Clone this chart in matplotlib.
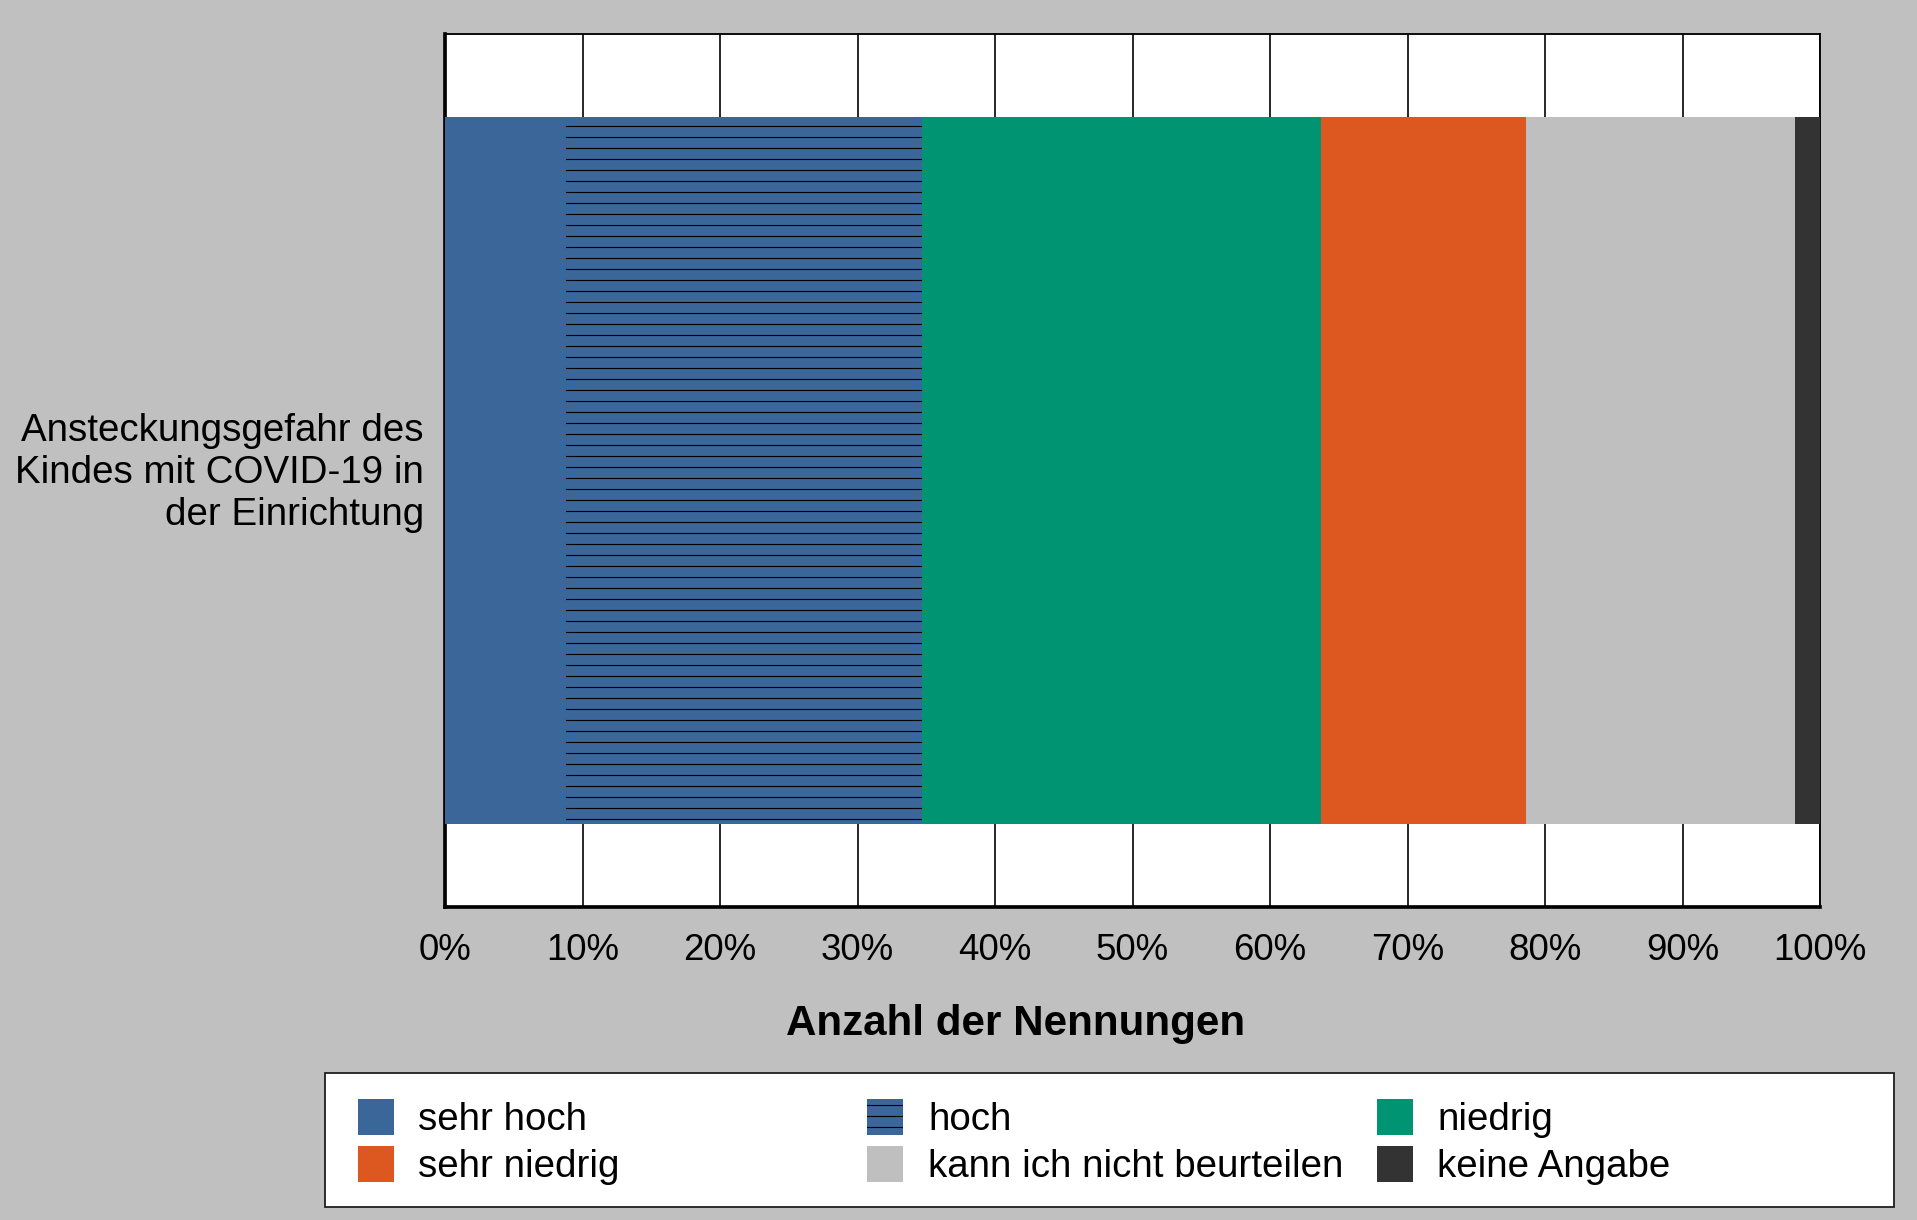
import matplotlib
matplotlib.use("Agg")
import matplotlib.pyplot as plt
from matplotlib.patches import Rectangle

# Data (shares in percent)
question = "Ansteckungsgefahr des\nKindes mit COVID-19 in\nder Einrichtung"
categories = ["sehr hoch", "hoch", "niedrig", "sehr niedrig",
              "kann ich nicht beurteilen", "keine Angabe"]
shares = [8.8, 25.9, 29.0, 14.9, 19.6, 1.8]
colors = ["#3a6699", "#3a6699", "#009473", "#dd5820", "#bfbfbf", "#333333"]
hatches = [None, "--", None, None, None, None]
xticks = [0, 10, 20, 30, 40, 50, 60, 70, 80, 90, 100]
xtick_labels = [f"{t}%" for t in xticks]

W, H, DPI = 1917, 1220, 132

plt.rcParams["font.family"] = ["Liberation Sans", "DejaVu Sans"]
plt.rcParams["hatch.color"] = "black"
plt.rcParams["hatch.linewidth"] = 0.6


def fx(px):
    return px / W


def fy(py):
    return 1 - py / H


fig = plt.figure(figsize=(W / DPI, H / DPI), dpi=DPI, facecolor="#c0c0c0")
ax = fig.add_axes([fx(445), fy(907), fx(1820) - fx(445), fy(34) - fy(907)])
ax.set_facecolor("white")

# Stacked horizontal bar
left = 0
for cat, val, col, h in zip(categories, shares, colors, hatches):
    ax.barh(0, val, left=left, height=0.81, color=col, edgecolor="black",
            linewidth=0, hatch=h, label=cat, zorder=3)
    left += val

ax.set_xlim(0, 100)
ax.set_ylim(-0.5, 0.5)
ax.set_xticks(xticks)
ax.set_xticklabels(xtick_labels, fontsize=20)
ax.set_yticks([0.005])
ax.set_yticklabels([question], fontsize=21, linespacing=1.21, ha="right")
ax.tick_params(axis="x", length=0, pad=14)
ax.tick_params(axis="y", length=0, pad=11.5)
ax.grid(axis="x", color="black", linewidth=0.9, zorder=1)
ax.set_axisbelow(True)

for side in ["left", "bottom"]:
    ax.spines[side].set_linewidth(2.0)
for side in ["top", "right"]:
    ax.spines[side].set_linewidth(1.0)

fig.text(fx(1016), fy(1024), "Anzahl der Nennungen", fontsize=23,
         fontweight="bold", ha="center", va="center")

# Legend box, laid out row by row like the original
fig.add_artist(Rectangle((fx(325), fy(1207)), fx(1894) - fx(325),
                         fy(1073) - fy(1207), transform=fig.transFigure,
                         facecolor="white", edgecolor="#222222", linewidth=1.0))
col_patch_x = [358, 867, 1377]
col_text_x = [418, 928, 1437]
row_patch_top = [1099, 1146]
row_baseline = [1130, 1177]
for i, (cat, col, h) in enumerate(zip(categories, colors, hatches)):
    r, c = divmod(i, 3)
    x0 = col_patch_x[c]
    y0 = row_patch_top[r]
    fig.add_artist(Rectangle((fx(x0), fy(y0 + 36)), fx(36), 36 / H,
                             transform=fig.transFigure, facecolor=col,
                             edgecolor="black", linewidth=0, hatch=h))
    fig.text(fx(col_text_x[c]), fy(row_baseline[r]), cat, fontsize=21,
             ha="left", va="baseline")

fig.savefig("out.png", dpi=DPI, facecolor=fig.get_facecolor())
